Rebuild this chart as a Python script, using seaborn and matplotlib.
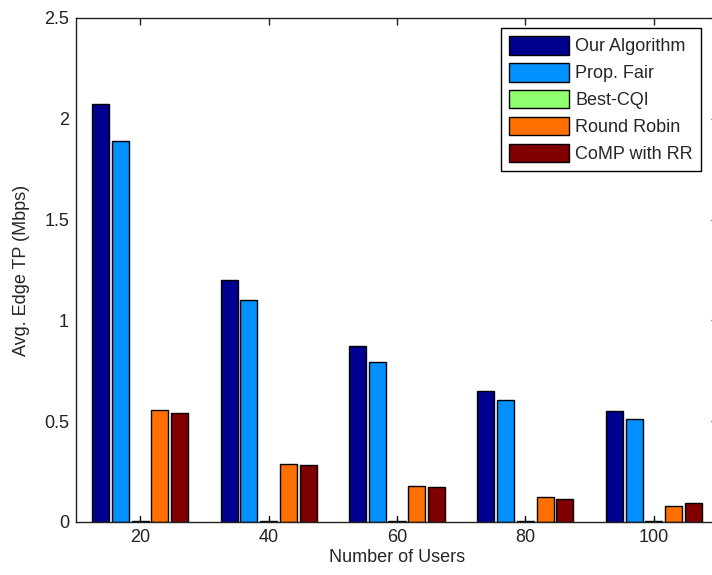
import numpy as np
import pandas as pd
import seaborn as sns
import matplotlib.pyplot as plt

# data
users = ["20", "40", "60", "80", "100"]
schemes = ["Our Algorithm", "Prop. Fair", "Best-CQI", "Round Robin", "CoMP with RR"]
our_alg = [2.075, 1.20, 0.873, 0.650, 0.553]
prop_fair = [1.890, 1.10, 0.794, 0.605, 0.511]
best_cqi = [0.004, 0.004, 0.004, 0.004, 0.004]
round_robin = [0.556, 0.290, 0.180, 0.122, 0.079]
comp_rr = [0.540, 0.283, 0.174, 0.116, 0.093]

colors = {"Our Algorithm": "#00008F", "Prop. Fair": "#0090FF", "Best-CQI": "#8FFF70",
          "Round Robin": "#FF7000", "CoMP with RR": "#800000"}

df = pd.DataFrame({"users": users, "Our Algorithm": our_alg, "Prop. Fair": prop_fair,
                   "Best-CQI": best_cqi, "Round Robin": round_robin, "CoMP with RR": comp_rr})
mdf = pd.melt(df, id_vars=["users"], var_name="scheme", value_name="tp")

sns.set_style("white")
plt.rcParams['font.family'] = ['Liberation Sans', 'DejaVu Sans']
fs = 13

fig = plt.figure(figsize=(7.12, 5.75), dpi=100)
ax = fig.add_axes([76 / 712, 1 - 522 / 575, 642 / 712, 504 / 575])

sns.barplot(data=mdf, x="users", y="tp", hue="scheme", hue_order=schemes, order=users,
            palette=colors, saturation=1, width=0.77, gap=0.14, errorbar=None,
            edgecolor="black", linewidth=1, ax=ax)

# little stem on the near-zero Best-CQI bars
for p in ax.containers[2].patches:
    xc = p.get_x() + p.get_width() / 2
    ax.plot([xc, xc], [p.get_height(), p.get_height() + 0.025], color="black", lw=1)

ax.set_xlim(-0.5, 4.5)
ax.set_ylim(0, 2.5)
ax.set_yticks([0, 0.5, 1, 1.5, 2, 2.5])
ax.set_yticklabels(["0", "0.5", "1", "1.5", "2", "2.5"])
ax.tick_params(direction="in", top=True, right=True, length=5, width=1,
               labelsize=fs, colors="#222222", pad=5)
for s in ax.spines.values():
    s.set_color("#222222")
    s.set_linewidth(1)

ax.set_xlabel("Number of Users", fontsize=fs, labelpad=2)
ax.set_ylabel("Avg. Edge TP (Mbps)", fontsize=fs, labelpad=10)

leg = ax.legend(loc="upper right", bbox_to_anchor=(701 / 712, 1 - 28 / 575),
                bbox_transform=fig.transFigure, borderaxespad=0, fontsize=fs,
                frameon=True, fancybox=False, edgecolor="black", framealpha=1,
                handlelength=3.3, handleheight=1.2, labelspacing=0.42,
                handletextpad=0.35, borderpad=0.45)
leg.get_frame().set_linewidth(1)

fig.savefig("out.png", dpi=100)
